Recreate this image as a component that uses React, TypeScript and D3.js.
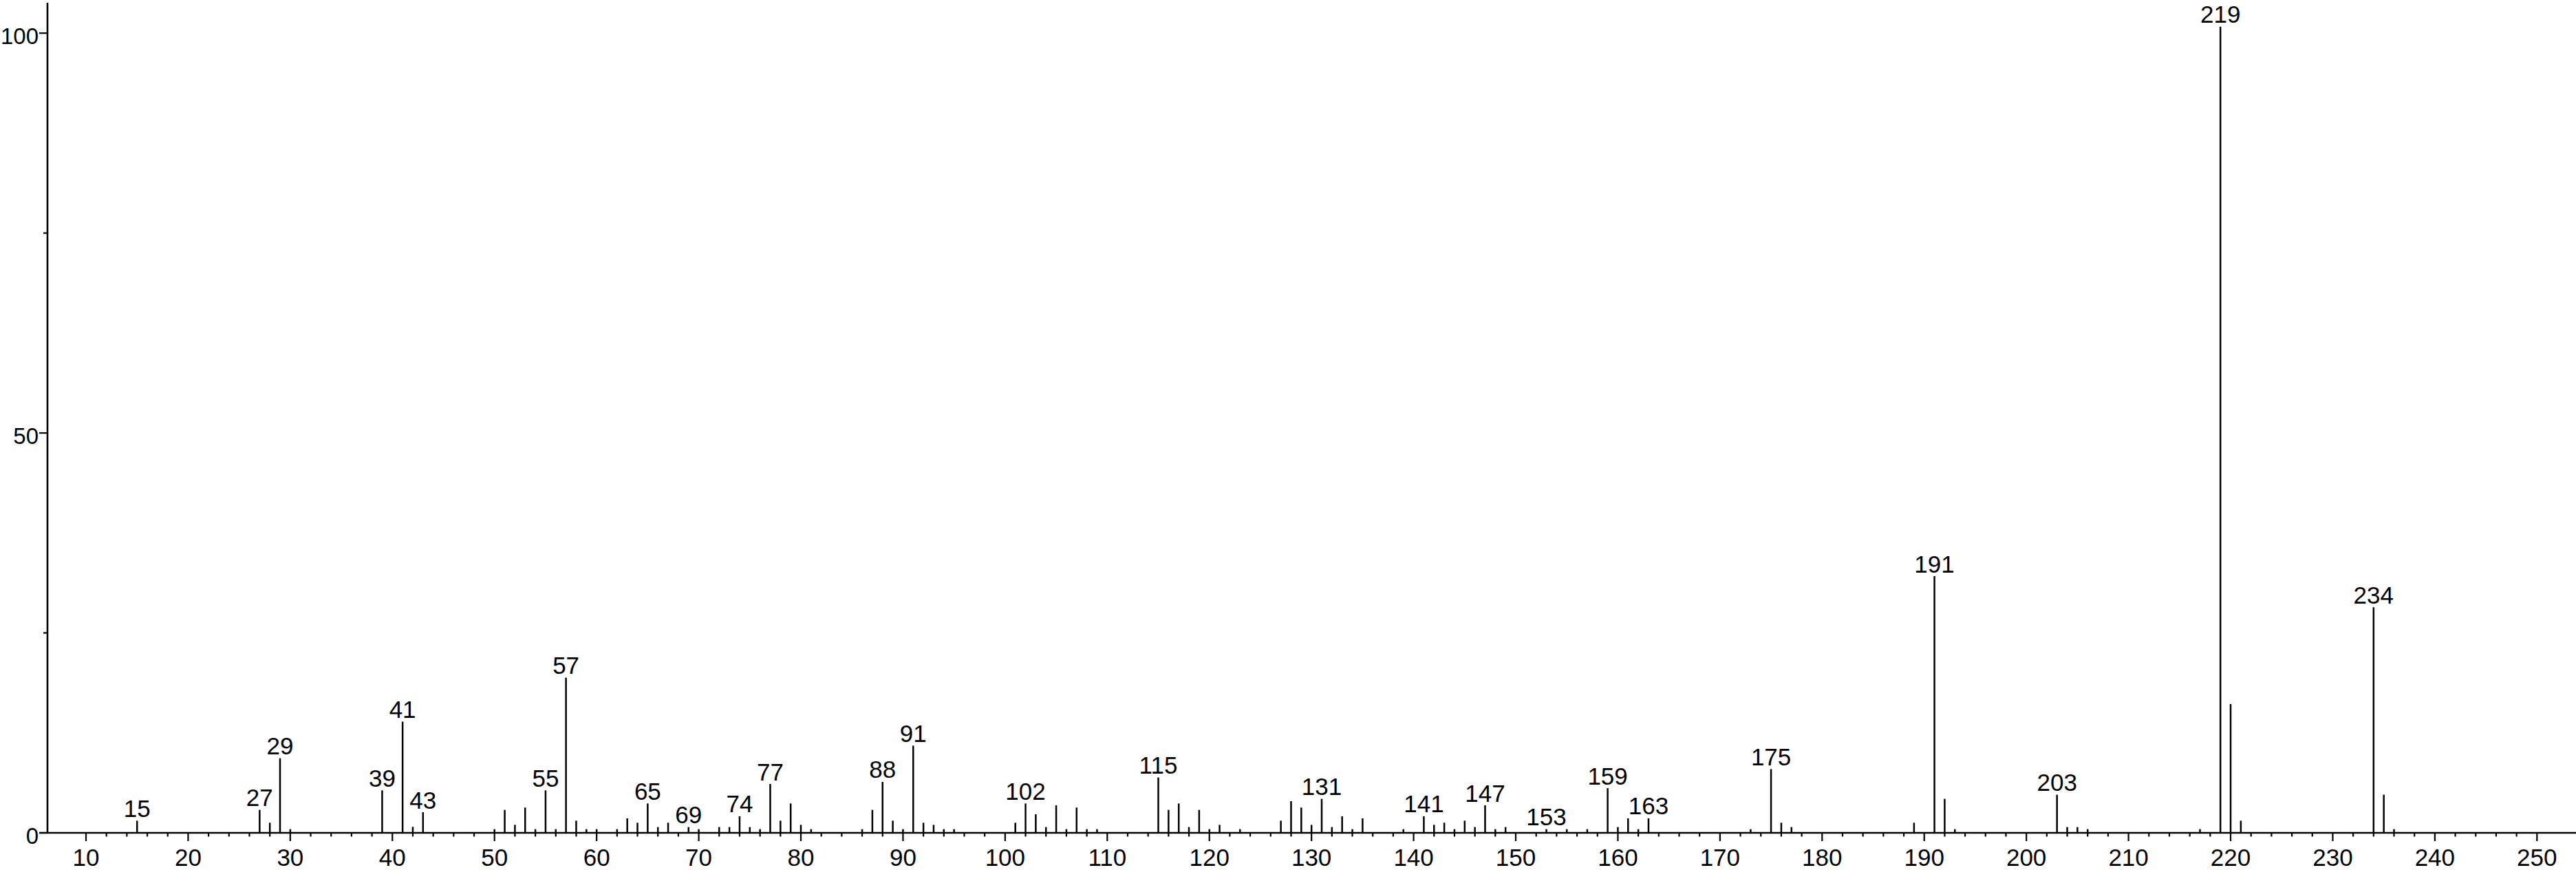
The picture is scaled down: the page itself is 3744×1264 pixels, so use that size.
import React from "react";
import * as d3 from "d3";

const mzValues = [
  15, 27, 28, 29, 30, 39, 41, 42, 43, 50, 51, 52, 53, 54, 55, 56, 57, 58, 59, 60,
  62, 63, 64, 65, 66, 67, 69, 70, 72, 73, 74, 75, 76, 77, 78, 79, 80, 81, 86, 87,
  88, 89, 90, 91, 92, 93, 94, 95, 101, 102, 103, 104, 105, 106, 107, 108, 109,
  115, 116, 117, 118, 119, 120, 121, 123, 127, 128, 129, 130, 131, 132, 133, 134,
  135, 139, 141, 142, 143, 144, 145, 146, 147, 148, 149, 153, 155, 157, 159, 160,
  161, 162, 163, 173, 175, 176, 177, 189, 191, 192, 193, 203, 204, 205, 206, 217,
  219, 220, 221, 234, 235, 236,
];

const intensities = [
  1.52, 2.87, 1.26, 9.33, 0.46, 5.31, 13.9, 0.75, 2.58, 0.46, 2.87, 1.0, 3.16, 0.46, 5.31, 0.46, 19.4, 1.52, 0.46, 0.46,
  0.46, 1.81, 1.26, 3.67, 0.72, 1.26, 0.72, 0.46, 0.72, 0.72, 2.07, 0.72, 0.46, 6.11, 1.52, 3.67, 1.0, 0.46, 0.46, 2.87,
  6.37, 1.52, 0.46, 10.9, 1.26, 1.0, 0.46, 0.46, 1.26, 3.67, 2.32, 0.72, 3.44, 0.46, 3.16, 0.46, 0.46,
  6.92, 2.87, 3.67, 0.72, 2.87, 0.46, 1.0, 0.46, 1.52, 3.96, 3.16, 1.0, 4.25, 0.72, 2.07, 0.46,
  1.81, 0.46, 2.07, 1.0, 1.26, 0.46, 1.52, 0.72, 3.44, 0.46, 0.72, 0.46, 0.46, 0.46, 5.59, 0.72,
  1.81, 0.46, 1.81, 0.46, 7.97, 1.26, 0.72, 1.26, 32.1, 4.25, 0.46, 4.76, 0.72, 0.72, 0.46, 0.46,
  100.8, 16.1, 1.52, 28.2, 4.76, 0.46,
];

const labeledPeaks = [
  15, 27, 29, 39, 41, 43, 55, 57, 65, 69, 74, 77, 88, 91, 102, 115, 131, 141, 147,
  153, 159, 163, 175, 191, 203, 219, 234,
];

const xMajorTicks = d3.range(10, 251, 10);
const xMinorTicks = d3.range(12, 249, 2).filter((v) => v % 10 !== 0);
const yMajorTicks = [0, 50, 100];
const yMinorTicks = [25, 75];

const W = 3744;
const H = 1264;
const FONT = "'Liberation Sans', Arial, Helvetica, sans-serif";

export default function App() {
  const x = d3.scaleLinear().domain([6.227, 253.82]).range([69, 3744]);
  const y = d3.scaleLinear().domain([0, 103.8]).range([1210, 4]);
  const peaks = mzValues.map((m, i) => ({ m, v: intensities[i] }));
  const labelSet = new Set(labeledPeaks);

  return (
    <svg
      width={W}
      height={H}
      viewBox={`0 0 ${W} ${H}`}
      style={{ position: "absolute", left: 0, top: 0, background: "#fff" }}
    >
      <rect x={0} y={0} width={W} height={H} fill="#fff" />
      {peaks.map((p) => (
        <line
          key={`p${p.m}`}
          x1={x(p.m)}
          x2={x(p.m)}
          y1={y(0)}
          y2={y(p.v)}
          stroke="#000"
          strokeWidth={2.5}
        />
      ))}
      {peaks
        .filter((p) => labelSet.has(p.m))
        .map((p) => (
          <text
            key={`l${p.m}`}
            x={x(p.m)}
            y={y(p.v) - 5.5}
            textAnchor="middle"
            fontFamily={FONT}
            fontSize={35}
            fill="#000"
          >
            {p.m}
          </text>
        ))}
      <line x1={57} x2={W} y1={y(0)} y2={y(0)} stroke="#000" strokeWidth={2.6} />
      {xMajorTicks.map((t) => (
        <g key={`xm${t}`}>
          <line x1={x(t)} x2={x(t)} y1={y(0)} y2={y(0) + 12} stroke="#000" strokeWidth={2.2} />
          <text
            x={x(t)}
            y={y(0) + 47.5}
            textAnchor="middle"
            fontFamily={FONT}
            fontSize={35}
            fill="#000"
          >
            {t}
          </text>
        </g>
      ))}
      {xMinorTicks.map((t) => (
        <line key={`xn${t}`} x1={x(t)} x2={x(t)} y1={y(0)} y2={y(0) + 5.5} stroke="#000" strokeWidth={2.2} />
      ))}
      <line x1={69} x2={69} y1={4} y2={y(0)} stroke="#000" strokeWidth={2.6} />
      {yMajorTicks.map((t) => (
        <g key={`ym${t}`}>
          <line x1={57} x2={69} y1={y(t)} y2={y(t)} stroke="#000" strokeWidth={2.2} />
          <text
            x={56}
            y={y(t) + 16}
            textAnchor="end"
            fontFamily={FONT}
            fontSize={33}
            fill="#000"
          >
            {t}
          </text>
        </g>
      ))}
      {yMinorTicks.map((t) => (
        <line key={`yn${t}`} x1={63} x2={69} y1={y(t)} y2={y(t)} stroke="#000" strokeWidth={2.2} />
      ))}
    </svg>
  );
}
